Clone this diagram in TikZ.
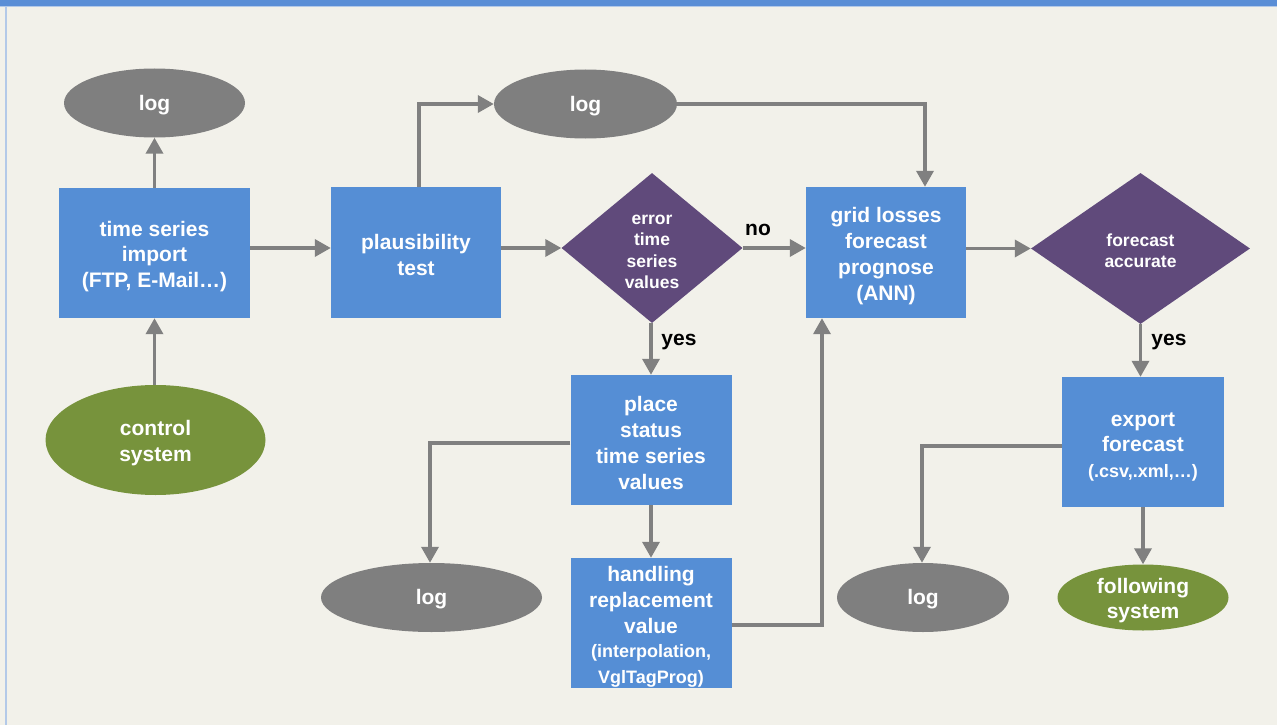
\documentclass[tikz,border=0pt]{standalone}
\usepackage{fontspec}
\setmainfont{Liberation Sans}
\usetikzlibrary{shapes.geometric,arrows.meta}

\definecolor{pagebg}{HTML}{F2F1EA}
\definecolor{barblue}{HTML}{5A8ED6}
\definecolor{edgeblue}{HTML}{B3C9E8}
\definecolor{boxblue}{HTML}{558ED5}
\definecolor{decpurple}{HTML}{604A7B}
\definecolor{sysgreen}{HTML}{77933C}
\definecolor{loggray}{HTML}{7F7F7F}
\definecolor{linegray}{HTML}{808080}

\newcommand{\mainfont}{\fontsize{21}{25.8}\selectfont\bfseries}
\newcommand{\subfont}{\fontsize{18}{22.5}\selectfont\bfseries}
\newcommand{\decfont}{\fontsize{17.5}{21.3}\selectfont\bfseries}

\tikzset{
  procbox/.style={rectangle, fill=boxblue, inner sep=0pt},
  logoval/.style={ellipse, fill=loggray, inner sep=0pt,
    minimum width=#1, minimum height=69pt},
  sysoval/.style={ellipse, fill=sysgreen, inner sep=0pt},
  decision/.style={diamond, fill=decpurple, inner sep=0pt},
  shapetext/.style={text=white, align=center, font=\mainfont},
  dectext/.style={text=white, align=center, font=\decfont},
  flow/.style={draw=linegray, line width=3.5pt,
    -{Triangle[width=17pt,length=16pt]}},
  answer/.style={text=black, font=\fontsize{21}{25}\selectfont\bfseries}
}

\begin{document}
\begin{tikzpicture}[x=1pt,y=-1pt]
  % page and frame
  \fill[pagebg] (0,0) rectangle (1277,725);
  \useasboundingbox (0,0) rectangle (1277,725);
  \fill[barblue] (0,0) rectangle (1277,6);
  \fill[edgeblue] (0,6) rectangle (1277,7.2);
  \fill[edgeblue] (5,6) rectangle (7,725);

  % import column
  \node[logoval=181pt] (logA) at (154.5,103) {};
  \node[shapetext] (logAt) at (154.5,105) {log};
  \node[procbox, minimum width=191pt, minimum height=130pt] (imp) at (154.5,253) {};
  \node[shapetext] (impt) at (154.5,256.5) {time series\\import\\(FTP, E-Mail…)};
  \node[sysoval, minimum width=220pt, minimum height=110pt] (ctrl) at (155.5,440) {};
  \node[shapetext] (ctrlt) at (155.5,443) {control\\system};

  % plausibility check
  \node[procbox, minimum width=170pt, minimum height=131pt] (plaus) at (416,252.5) {};
  \node[shapetext] (plaust) at (416,255) {plausibility\\test};
  \node[logoval=183pt] (logB) at (585.5,104) {};
  \node[shapetext] (logBt) at (585.5,106) {log};

  \node[decision, minimum width=181pt, minimum height=150pt] (errq) at (652,248) {};
  \node[dectext] (errqt) at (652,252) {error\\time\\series\\values};

  % replacement branch
  \node[procbox, minimum width=161pt, minimum height=130pt] (place) at (651,440) {};
  \node[shapetext] (placet) at (651,443) {place\\status\\time series\\values};
  \node[procbox, minimum width=161pt, minimum height=130pt] (hand) at (651,623) {};
  \node[shapetext] (handt) at (651,627)
    {handling\\replacement\\value\\[-1.5pt]{\subfont(interpolation,}\\{\subfont VglTagProg)}};
  \node[logoval=221pt] (logC) at (431.5,597.5) {};
  \node[shapetext] (logCt) at (431.5,599.5) {log};

  % forecast
  \node[procbox, minimum width=160pt, minimum height=131pt] (grid) at (886,252.5) {};
  \node[shapetext] (gridt) at (886,256) {grid losses\\forecast\\prognose\\(ANN)};
  \node[decision, minimum width=219pt, minimum height=151pt] (accq) at (1140.5,248.5) {};
  \node[dectext] (accqt) at (1140.5,251) {forecast\\accurate};

  % export branch
  \node[procbox, minimum width=162pt, minimum height=130pt] (exp) at (1143,442) {};
  \node[shapetext] (expt) at (1143,447) {export\\forecast\\{\subfont(.csv,.xml,…)}};
  \node[logoval=172pt] (logD) at (923,597.5) {};
  \node[shapetext] (logDt) at (923,599.5) {log};
  \node[sysoval, minimum width=171pt, minimum height=66pt] (follow) at (1143,597.5) {};
  \node[shapetext] (followt) at (1143,600.5) {following\\system};

  % connectors
  \draw[flow] (imp.north) -- (logA.south);
  \draw[flow] (ctrl.north -| imp.south) -- (imp.south);
  \draw[flow] (imp.east |- errq) -- (plaus.west |- errq);
  \draw[flow] ([xshift=3pt]plaus.north) |- (logB.west);
  \draw[flow] (logB.east) -| ([xshift=39pt]grid.north);
  \draw[flow] (plaus.east |- errq) -- (errq.west);
  \draw[flow] (errq.east) -- (grid.west |- errq);
  \node[answer] (noLbl) at (758,230) {no};
  \draw[flow] (errq.south -| place.north) -- (place.north);
  \node[answer] (yesA) at (679,342) {yes};
  \draw[flow] ([yshift=-3pt]place.west) -| ([xshift=-1.5pt]logC.north);
  \draw[flow] (place.south) -- (hand.north);
  \draw[flow] ([yshift=-2pt]hand.east) -| ([xshift=-64pt]grid.south);
  \draw[flow] (grid.east |- accq) -- (accq.west);
  \draw[flow] (accq.south) -- (accq.south |- exp.north);
  \node[answer] (yesB) at (1169,342) {yes};
  \draw[flow] ([yshift=-4pt]exp.west) -| ([xshift=-1pt]logD.north);
  \draw[flow] (exp.south) -- (follow.north);
\end{tikzpicture}
\end{document}
